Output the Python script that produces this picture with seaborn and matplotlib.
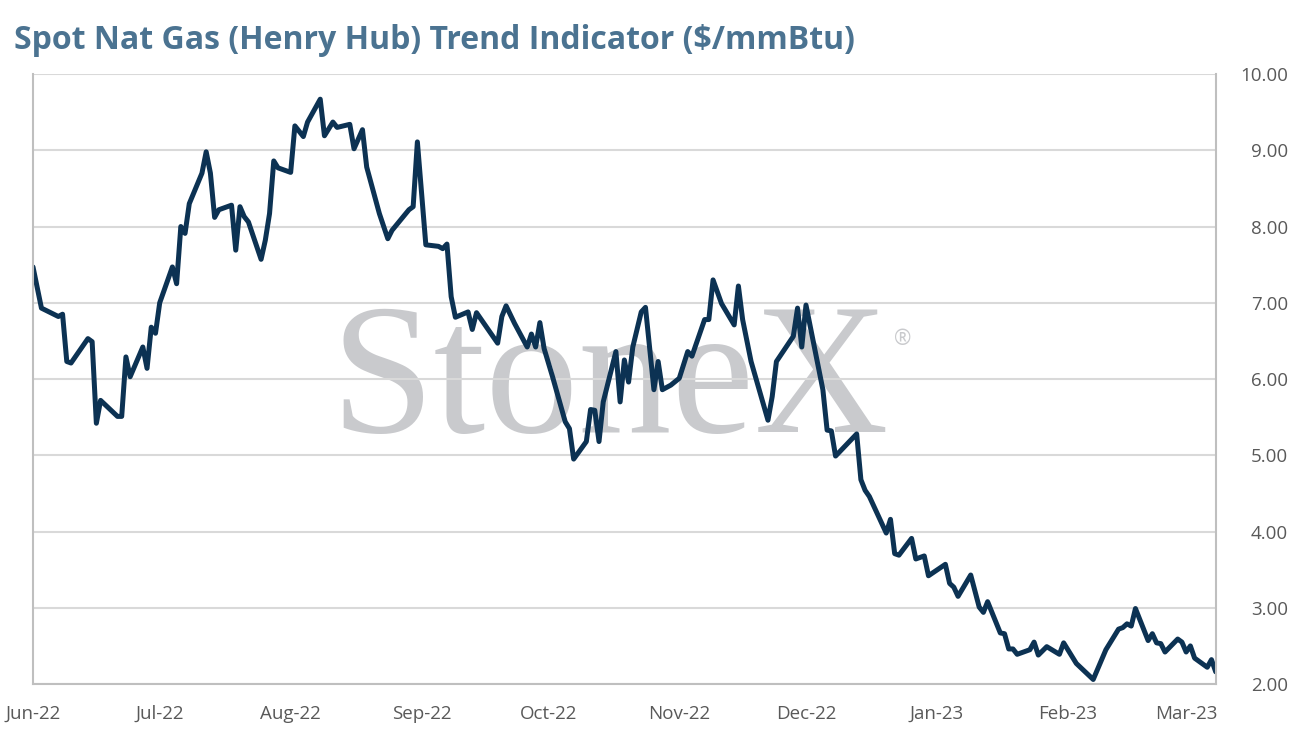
"""Spot Nat Gas (Henry Hub) trend indicator chart"""
import pandas as pd
import seaborn as sns
import matplotlib.pyplot as plt
import matplotlib.dates as mdates

# values
dates = [
    '2022-06-01', '2022-06-03', '2022-06-07', '2022-06-08', '2022-06-09', '2022-06-10',
    '2022-06-14', '2022-06-15', '2022-06-16', '2022-06-17', '2022-06-21', '2022-06-22',
    '2022-06-23', '2022-06-24', '2022-06-27', '2022-06-28', '2022-06-29', '2022-06-30',
    '2022-07-01', '2022-07-04', '2022-07-05', '2022-07-06', '2022-07-07', '2022-07-08',
    '2022-07-11', '2022-07-12', '2022-07-13', '2022-07-14', '2022-07-15', '2022-07-18',
    '2022-07-19', '2022-07-20', '2022-07-21', '2022-07-22', '2022-07-25', '2022-07-26',
    '2022-07-27', '2022-07-28', '2022-07-29', '2022-08-01', '2022-08-02', '2022-08-04',
    '2022-08-05', '2022-08-08', '2022-08-09', '2022-08-11', '2022-08-12', '2022-08-15',
    '2022-08-16', '2022-08-18', '2022-08-19', '2022-08-22', '2022-08-24', '2022-08-25',
    '2022-08-29', '2022-08-30', '2022-08-31', '2022-09-02', '2022-09-05', '2022-09-06',
    '2022-09-07', '2022-09-08', '2022-09-09', '2022-09-12', '2022-09-13', '2022-09-14',
    '2022-09-19', '2022-09-20', '2022-09-21', '2022-09-23', '2022-09-26', '2022-09-27',
    '2022-09-28', '2022-09-29', '2022-09-30', '2022-10-02', '2022-10-05', '2022-10-06',
    '2022-10-07', '2022-10-10', '2022-10-11', '2022-10-12', '2022-10-13', '2022-10-14',
    '2022-10-17', '2022-10-18', '2022-10-19', '2022-10-20', '2022-10-21', '2022-10-23',
    '2022-10-24', '2022-10-26', '2022-10-27', '2022-10-28', '2022-10-30', '2022-11-01',
    '2022-11-03', '2022-11-04', '2022-11-07', '2022-11-08', '2022-11-09', '2022-11-11',
    '2022-11-14', '2022-11-15', '2022-11-16', '2022-11-18', '2022-11-22', '2022-11-23',
    '2022-11-24', '2022-11-28', '2022-11-29', '2022-11-30', '2022-12-01', '2022-12-05',
    '2022-12-06', '2022-12-07', '2022-12-08', '2022-12-13', '2022-12-14', '2022-12-15',
    '2022-12-16', '2022-12-20', '2022-12-21', '2022-12-22', '2022-12-23', '2022-12-26',
    '2022-12-27', '2022-12-29', '2022-12-30', '2023-01-03', '2023-01-04', '2023-01-05',
    '2023-01-06', '2023-01-09', '2023-01-11', '2023-01-12', '2023-01-13', '2023-01-16',
    '2023-01-17', '2023-01-18', '2023-01-19', '2023-01-20', '2023-01-23', '2023-01-24',
    '2023-01-25', '2023-01-27', '2023-01-30', '2023-01-31', '2023-02-03', '2023-02-07',
    '2023-02-10', '2023-02-13', '2023-02-14', '2023-02-15', '2023-02-16', '2023-02-17',
    '2023-02-20', '2023-02-21', '2023-02-22', '2023-02-23', '2023-02-24', '2023-02-27',
    '2023-02-28', '2023-03-01', '2023-03-02', '2023-03-03', '2023-03-06', '2023-03-07',
    '2023-03-08',
]
prices = [
    7.47, 6.93, 6.82, 6.85, 6.23, 6.21,
    6.53, 6.49, 5.42, 5.72, 5.51, 5.51,
    6.29, 6.03, 6.42, 6.14, 6.68, 6.60,
    7.00, 7.47, 7.25, 8.00, 7.91, 8.30,
    8.70, 8.98, 8.70, 8.12, 8.22, 8.28,
    7.69, 8.26, 8.13, 8.06, 7.57, 7.82,
    8.17, 8.86, 8.77, 8.71, 9.32, 9.18,
    9.37, 9.67, 9.19, 9.37, 9.30, 9.34,
    9.02, 9.27, 8.78, 8.17, 7.84, 7.95,
    8.22, 8.26, 9.11, 7.76, 7.74, 7.71,
    7.77, 7.08, 6.81, 6.88, 6.65, 6.87,
    6.47, 6.82, 6.96, 6.73, 6.42, 6.59,
    6.42, 6.74, 6.40, 6.03, 5.44, 5.35,
    4.95, 5.18, 5.60, 5.59, 5.18, 5.70,
    6.36, 5.70, 6.25, 5.96, 6.42, 6.88,
    6.94, 5.86, 6.23, 5.86, 5.92, 6.01,
    6.36, 6.30, 6.78, 6.78, 7.30, 6.99,
    6.71, 7.22, 6.78, 6.23, 5.46, 5.77,
    6.23, 6.56, 6.93, 6.42, 6.97, 5.86,
    5.33, 5.32, 4.99, 5.28, 4.68, 4.54,
    4.46, 3.98, 4.16, 3.71, 3.69, 3.91,
    3.64, 3.68, 3.42, 3.57, 3.32, 3.27,
    3.15, 3.43, 3.01, 2.94, 3.08, 2.67,
    2.66, 2.46, 2.46, 2.39, 2.45, 2.55,
    2.38, 2.49, 2.39, 2.54, 2.27, 2.06,
    2.45, 2.72, 2.74, 2.79, 2.76, 2.99,
    2.57, 2.66, 2.54, 2.53, 2.42, 2.59,
    2.55, 2.42, 2.50, 2.34, 2.22, 2.32,
    2.16,
]
y_ticks = [2, 3, 4, 5, 6, 7, 8, 9, 10]

df = pd.DataFrame({'date': pd.to_datetime(dates), 'price': prices})

sns.set_style('white')
plt.rcParams['font.family'] = ['Open Sans', 'DejaVu Sans']

fig = plt.figure(figsize=(12.94, 7.44), dpi=100)
ax = fig.add_axes([0.0255, 0.0806, 0.914, 0.8199])

sns.lineplot(data=df, x='date', y='price', ax=ax, color='#0c3253', linewidth=3.6)

ax.set_xlim(df['date'].iloc[0], df['date'].iloc[-1])
ax.set_ylim(2, 10)
ax.set_yticks(y_ticks)
ax.yaxis.set_major_formatter(plt.FuncFormatter(lambda v, _: f'{v:.2f}'))
ax.yaxis.tick_right()
ax.xaxis.set_major_locator(mdates.MonthLocator())
ax.xaxis.set_major_formatter(mdates.DateFormatter('%b-%y'))

ax.grid(axis='y', color='#d9d9d9', linewidth=1.5)
ax.set_axisbelow(True)
for side in ['left', 'right', 'bottom']:
    ax.spines[side].set_color('#bfbfbf')
    ax.spines[side].set_linewidth(1.5)
ax.spines['top'].set_visible(False)

ax.tick_params(axis='y', length=0, pad=52, labelsize=13.5, labelcolor='#595959')
for lbl in ax.get_yticklabels():
    lbl.set_ha('right')
ax.tick_params(axis='x', length=0, pad=15, labelsize=13.5, labelcolor='#595959')
ax.set_xlabel('')
ax.set_ylabel('')

# watermark
ax.text(0.488, 0.487, 'StoneX', transform=ax.transAxes, ha='center', va='center',
        fontsize=134, family='Liberation Serif', color='#c9cacd', zorder=0)
ax.text(0.735, 0.565, '®', transform=ax.transAxes, ha='center', va='center',
        fontsize=15, color='#c9cacd', zorder=0)

fig.text(0.011, 0.946, 'Spot Nat Gas (Henry Hub) Trend Indicator ($/mmBtu)',
         fontsize=23, fontweight='bold', color='#4b7391', ha='left', va='center')

fig.savefig('out.png', dpi=100)
